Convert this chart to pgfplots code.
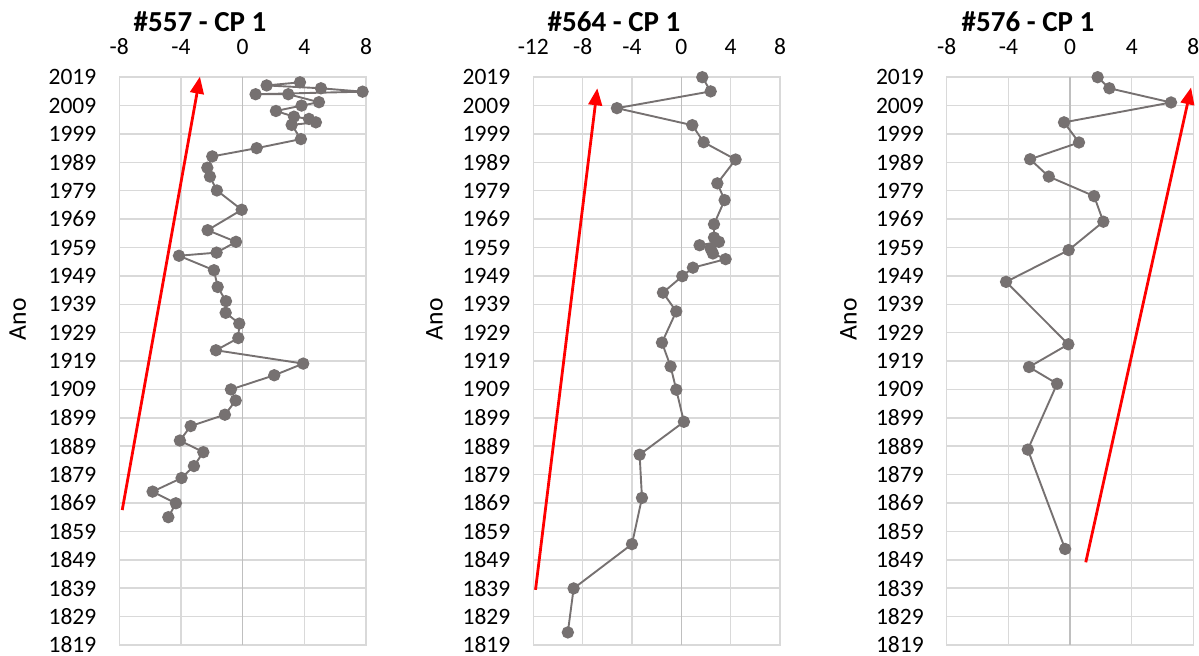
\documentclass[border=0pt]{standalone}
\usepackage{fontspec}
\setmainfont{Carlito}
\usepackage{pgfplots}
\pgfplotsset{compat=1.18}
\usetikzlibrary{arrows.meta}

\definecolor{gridgray}{HTML}{D9D9D9}
\definecolor{zerogray}{HTML}{BFBFBF}
\definecolor{seriesgray}{HTML}{767171}
\definecolor{trendred}{HTML}{FF0000}

\pgfplotsset{
  panel/.style={
    scale only axis, width=123.35pt, height=283.85pt,
    anchor=north west, clip=false,
    ymin=1819, ymax=2019, ytick={1819,1829,...,2019},
    xtick={-12,-8,...,8},
    xticklabel pos=upper,
    grid=major,
    major grid style={gridgray, line width=0.75pt},
    axis line style={gridgray, line width=0.75pt},
    tick style={draw=none},
    tick label style={font=\fontsize{11.75}{14}\selectfont, text=black, inner sep=0pt},
    xticklabel style={yshift=11pt},
    yticklabel style={xshift=-11.3pt},
    /pgf/number format/assume math mode=true,
    /pgf/number format/set thousands separator={},
  },
  series/.style={seriesgray, line width=0.95pt, mark=*, mark size=2.6pt,
    mark options={fill=seriesgray, draw=seriesgray}},
  trend/.style={trendred, line width=1.4pt,
    -{Triangle[length=8.5pt,width=6.8pt]}},
}

\begin{document}
\begin{tikzpicture}
\path[use as bounding box] (0,-0.9pt) rectangle (599.5pt,-328.4pt);

% Core #557
\begin{axis}[panel, at={(59.65pt,-39.5pt)}, xmin=-8, xmax=8]
  \draw[zerogray, line width=0.75pt] (0,1819) -- (0,2019);
  \addplot[series] coordinates {
    (3.72,2017.2) (1.56,2016.1) (5.08,2015.1) (7.78,2013.9) (0.84,2013.0)
    (2.96,2013.0) (4.95,2010.2) (3.82,2009.0) (2.16,2007.1) (3.33,2005.1)
    (4.30,2004.3) (4.75,2003.1) (3.18,2002.2) (3.78,1997.2) (0.91,1994.0)
    (-1.97,1991.1) (-2.29,1987.1) (-2.12,1984.0) (-1.67,1979.1) (-0.06,1972.3)
    (-2.27,1965.1) (-0.43,1961.0) (-1.69,1957.2) (-4.13,1956.1) (-1.86,1951.0)
    (-1.62,1945.1) (-1.08,1940.1) (-1.10,1936.0) (-0.22,1932.2) (-0.28,1927.1)
    (-1.73,1922.8) (3.93,1918.1) (2.05,1914.0) (-0.76,1909.0) (-0.45,1905.1)
    (-1.15,1900.1) (-3.37,1896.1) (-4.07,1891.0) (-2.55,1886.9) (-3.16,1882.0)
    (-3.96,1877.8) (-5.84,1873.0) (-4.33,1868.9) (-4.82,1864.0)
  };
  \addplot[trend] coordinates {(-7.81,1866.5) (-2.77,2019.2)};
\end{axis}

% Core #564
\begin{axis}[panel, at={(266.65pt,-39.5pt)}, xmin=-12, xmax=8]
  \draw[zerogray, line width=0.75pt] (0,1819) -- (0,2019);
  \addplot[series] coordinates {
    (1.70,2019.0) (2.38,2014.0) (-5.22,2008.1) (0.89,2002.1) (1.81,1996.1)
    (4.40,1990.0) (2.92,1981.6) (3.51,1975.7) (2.65,1967.2) (2.65,1962.5)
    (3.05,1961.0) (1.48,1959.8) (2.38,1958.6) (2.56,1956.9) (3.59,1954.9)
    (0.94,1951.9) (0.08,1948.9) (-1.49,1943.1) (-0.41,1936.5) (-1.57,1925.5)
    (-0.87,1917.1) (-0.41,1908.9) (0.21,1897.6) (-3.38,1886.0) (-3.19,1870.8)
    (-4.00,1854.5) (-8.73,1838.9) (-9.20,1823.4)
  };
  \addplot[trend] coordinates {(-11.82,1838.4) (-6.81,2015.1)};
\end{axis}

% Core #576
\begin{axis}[panel, at={(473.35pt,-39.5pt)}, xmin=-8, xmax=8]
  \draw[zerogray, line width=0.75pt] (0,1819) -- (0,2019);
  \addplot[series] coordinates {
    (1.79,2019.0) (2.55,2015.1) (6.55,2010.1) (-0.39,2003.1) (0.58,1996.0)
    (-2.59,1990.1) (-1.38,1984.0) (1.56,1977.1) (2.16,1968.1) (-0.09,1958.1)
    (-4.15,1946.9) (-0.11,1924.9) (-2.66,1916.9) (-0.84,1911.0) (-2.74,1887.8)
    (-0.32,1852.8)
  };
  \addplot[trend] coordinates {(1.02,1848.1) (7.85,2015.4)};
\end{axis}

% Panel titles and vertical axis titles
\foreach \xt/\name in {100pt/{\#557 - CP 1}, 307pt/{\#564 - CP 1}, 514pt/{\#576 - CP 1}}
  \node[anchor=base, inner sep=0pt, font=\fontsize{14.5}{17}\selectfont\bfseries]
    at (\xt,-16.67pt) {\name};
\foreach \xa in {13pt, 221.35pt, 428.35pt}
  \node[anchor=base, rotate=90, inner sep=0pt, font=\fontsize{12.8}{15}\selectfont]
    at (\xa,-160.5pt) {Ano};
\end{tikzpicture}
\end{document}
